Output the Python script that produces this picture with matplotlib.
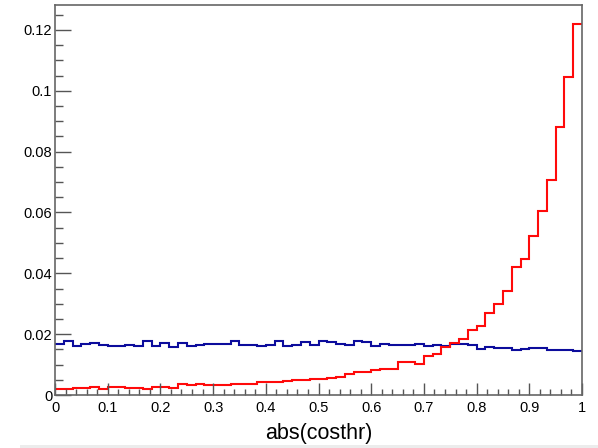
"""Recreate the abs(costhr) normalised histogram comparison."""

import matplotlib

matplotlib.use("Agg")
import matplotlib.pyplot as plt
import numpy as np
from matplotlib.patches import Rectangle
from matplotlib.ticker import MultipleLocator

plt.rcParams["font.family"] = ["Liberation Sans", "DejaVu Sans"]

# 60 bins over [0, 1]
N_BINS = 60
X_MIN, X_MAX = 0.0, 1.0

red_counts = [
    0.0020, 0.0021, 0.0023, 0.0023, 0.0025, 0.0020, 0.0026, 0.0026, 0.0024, 0.0024,
    0.0020, 0.0025, 0.0027, 0.0023, 0.0037, 0.0033, 0.0035, 0.0034, 0.0034, 0.0033,
    0.0036, 0.0036, 0.0037, 0.0043, 0.0042, 0.0043, 0.0047, 0.0048, 0.0048, 0.0052,
    0.0053, 0.0057, 0.0058, 0.0068, 0.0076, 0.0076, 0.0081, 0.0086, 0.0087, 0.0109,
    0.0109, 0.0103, 0.0128, 0.0135, 0.0158, 0.0172, 0.0185, 0.0213, 0.0228, 0.0270,
    0.0298, 0.0342, 0.0421, 0.0447, 0.0524, 0.0604, 0.0707, 0.0881, 0.1046, 0.1221,
]
blue_counts = [
    0.0167, 0.0176, 0.0162, 0.0168, 0.0171, 0.0163, 0.0160, 0.0160, 0.0163, 0.0160,
    0.0177, 0.0162, 0.0170, 0.0159, 0.0170, 0.0162, 0.0164, 0.0168, 0.0168, 0.0168,
    0.0177, 0.0166, 0.0164, 0.0160, 0.0165, 0.0177, 0.0162, 0.0166, 0.0175, 0.0166,
    0.0178, 0.0173, 0.0167, 0.0166, 0.0177, 0.0175, 0.0162, 0.0168, 0.0166, 0.0166,
    0.0166, 0.0168, 0.0162, 0.0166, 0.0162, 0.0169, 0.0169, 0.0166, 0.0151, 0.0157,
    0.0156, 0.0156, 0.0148, 0.0151, 0.0153, 0.0156, 0.0149, 0.0148, 0.0148, 0.0144,
]

x_label = "abs(costhr)"

edges = np.linspace(X_MIN, X_MAX, N_BINS + 1)
y_max = 1.05 * max(max(red_counts), max(blue_counts))

fig = plt.figure(figsize=(5.98, 4.48), dpi=100)
ax = fig.add_axes([55 / 598, 1 - 395 / 448, 527 / 598, 390 / 448])

ax.stairs(blue_counts, edges, baseline=None, color="#0c0c9c", lw=1.5)
ax.stairs(red_counts, edges, baseline=None, color="#ff0a0a", lw=1.5)

ax.set_xlim(X_MIN, X_MAX)
ax.set_ylim(0, y_max)

ax.xaxis.set_major_locator(MultipleLocator(0.1))
ax.xaxis.set_minor_locator(MultipleLocator(0.02))
ax.yaxis.set_major_locator(MultipleLocator(0.02))
ax.yaxis.set_minor_locator(MultipleLocator(0.005))
ax.xaxis.set_major_formatter(lambda v, _: f"{v:g}")
ax.yaxis.set_major_formatter(lambda v, _: f"{v:g}")

ax.tick_params(which="both", direction="in", top=False, right=False,
               colors="#555555", labelcolor="black", labelsize=10.5)
ax.tick_params(axis="y", which="major", length=11.5, width=1, pad=2)
ax.tick_params(axis="y", which="minor", length=6, width=1)
ax.tick_params(axis="x", which="major", length=8.5, width=1, pad=4)
ax.tick_params(axis="x", which="minor", length=4.5, width=1)

for spine in ax.spines.values():
    spine.set_color("#666666")
    spine.set_linewidth(1.2)

ax.set_xlabel(x_label, fontsize=15.5, labelpad=6)

# thin grey strip along the bottom edge of the canvas
fig.patches.append(Rectangle((20 / 598, 0), 1, 3 / 448, transform=fig.transFigure,
                             facecolor="#ececec", edgecolor="none"))

fig.savefig("out.png", dpi=100)
